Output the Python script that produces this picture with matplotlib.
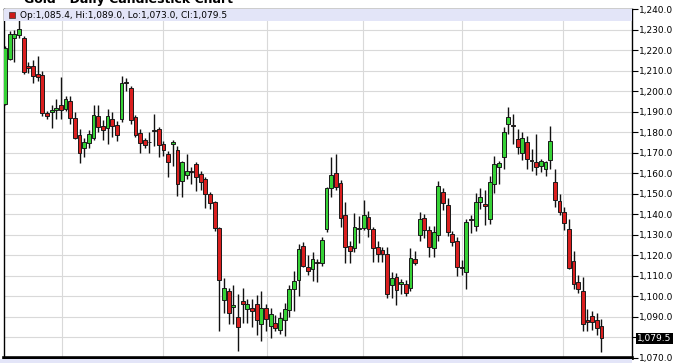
import matplotlib
matplotlib.use('Agg')
import matplotlib.pyplot as plt
from matplotlib.patches import Rectangle
import matplotlib.transforms as mtransforms
import numpy as np

# ---- data (daily OHLC) ----
opens = [1193.8, 1215.7, 1225.8, 1227.1, 1225.8, 1212.0, 1212.4, 1208.5, 1208.0, 1189.2,
         1189.6, 1191.0, 1193.0, 1191.5, 1195.4, 1186.9, 1178.8, 1172.1, 1174.7, 1177.0,
         1188.0, 1183.2, 1182.0, 1186.4, 1183.5, 1186.4, 1204.5, 1201.7, 1187.2, 1179.6,
         1176.0, 1175.4, 1180.9, 1181.6, 1174.0, 1169.4, 1174.4, 1171.3, 1156.3, 1159.1,
         1161.2, 1164.5, 1159.6, 1157.2, 1149.9, 1145.8, 1133.3, 1098.2, 1102.7, 1094.9,
         1090.0, 1097.8, 1093.8, 1094.5, 1096.2, 1086.7, 1094.5, 1085.5, 1087.2, 1083.5,
         1088.4, 1093.3, 1103.5, 1107.9, 1124.6, 1114.4, 1113.3, 1116.8, 1116.5, 1132.8,
         1152.8, 1160.1, 1155.2, 1139.8, 1124.6, 1123.8, 1132.8, 1133.3, 1138.8, 1132.8,
         1124.1, 1122.5, 1120.6, 1105.6, 1109.5, 1106.2, 1106.2, 1104.0, 1118.2, 1129.9,
         1138.1, 1132.3, 1123.5, 1129.9, 1151.1, 1144.6, 1130.6, 1127.1, 1114.5, 1111.9,
         1137.6, 1134.4, 1145.8, 1144.8, 1137.7, 1154.7, 1162.9, 1167.7, 1183.9, 1183.5,
         1176.7, 1170.1, 1175.0, 1166.6, 1165.6, 1163.5, 1162.3, 1166.6, 1155.9, 1146.6,
         1140.9, 1132.8, 1117.3, 1106.8, 1102.7, 1088.4, 1090.5, 1088.4, 1085.4]
highs = [1222.0, 1229.5, 1230.0, 1234.4, 1227.0, 1214.0, 1215.0, 1217.0, 1210.0, 1190.5,
         1193.0, 1196.0, 1206.7, 1197.8, 1197.8, 1190.0, 1181.7, 1177.0, 1181.0, 1193.4,
         1193.0, 1186.0, 1191.5, 1189.7, 1185.6, 1207.6, 1206.2, 1202.7, 1188.5, 1181.7,
         1177.0, 1180.0, 1188.9, 1182.3, 1175.5, 1171.0, 1176.0, 1173.4, 1166.0, 1169.5,
         1163.0, 1165.3, 1161.0, 1158.0, 1150.7, 1146.3, 1134.0, 1109.2, 1104.3, 1105.6,
         1101.0, 1104.3, 1098.5, 1098.5, 1100.7, 1102.7, 1096.2, 1094.5, 1091.0, 1092.5,
         1097.0, 1105.6, 1112.4, 1125.5, 1126.3, 1120.0, 1121.4, 1118.0, 1128.7, 1153.4,
         1167.7, 1169.4, 1156.5, 1145.8, 1127.0, 1140.4, 1139.0, 1146.9, 1141.5, 1134.0,
         1127.0, 1124.0, 1124.0, 1112.0, 1111.4, 1108.6, 1108.0, 1123.8, 1122.0, 1140.9,
         1140.3, 1134.4, 1134.4, 1156.3, 1152.8, 1148.0, 1131.9, 1128.7, 1117.8, 1137.7,
         1139.5, 1150.6, 1152.8, 1152.0, 1158.5, 1168.5, 1166.0, 1182.3, 1192.1, 1188.9,
         1181.7, 1180.2, 1178.3, 1172.0, 1179.1, 1167.0, 1165.8, 1183.2, 1162.0, 1150.0,
         1143.5, 1137.7, 1122.2, 1110.6, 1109.5, 1093.8, 1093.0, 1092.0, 1089.0]
lows = [1193.0, 1215.0, 1214.0, 1226.0, 1208.5, 1209.0, 1204.0, 1205.0, 1188.0, 1186.6,
        1182.0, 1186.6, 1186.6, 1190.5, 1184.2, 1176.5, 1165.0, 1168.0, 1172.5, 1176.0,
        1180.0, 1176.0, 1174.4, 1177.5, 1175.9, 1184.8, 1200.2, 1184.0, 1177.5, 1170.0,
        1172.5, 1169.9, 1173.4, 1167.7, 1168.5, 1158.0, 1163.7, 1149.0, 1148.2, 1157.3,
        1155.0, 1151.5, 1152.0, 1143.3, 1142.6, 1132.0, 1083.2, 1092.0, 1086.4, 1086.7,
        1073.4, 1087.2, 1087.0, 1085.0, 1081.2, 1078.3, 1083.0, 1079.6, 1083.0, 1081.6,
        1080.7, 1090.0, 1092.9, 1100.2, 1114.2, 1110.6, 1107.6, 1107.0, 1114.9, 1131.6,
        1148.2, 1152.0, 1133.6, 1116.5, 1116.5, 1121.4, 1126.0, 1132.3, 1129.0, 1117.0,
        1117.0, 1117.0, 1099.4, 1099.0, 1096.0, 1101.0, 1100.0, 1102.7, 1115.5, 1127.1,
        1128.6, 1119.0, 1119.0, 1127.1, 1142.0, 1129.2, 1124.5, 1110.0, 1110.3, 1103.5,
        1131.0, 1132.0, 1142.6, 1135.0, 1135.4, 1150.6, 1155.0, 1162.0, 1179.1, 1174.2,
        1169.4, 1166.6, 1162.0, 1161.2, 1159.1, 1160.4, 1158.5, 1162.0, 1143.7, 1139.5,
        1132.5, 1113.3, 1103.5, 1101.8, 1083.2, 1083.2, 1083.5, 1081.0, 1073.0]
closes = [1220.9, 1227.9, 1227.9, 1230.3, 1209.5, 1211.2, 1207.6, 1207.0, 1189.5, 1188.0,
          1191.0, 1191.8, 1191.0, 1196.3, 1186.9, 1177.0, 1169.9, 1175.0, 1179.0, 1188.4,
          1182.7, 1181.2, 1187.7, 1183.2, 1178.6, 1204.0, 1204.0, 1186.1, 1178.6, 1174.7,
          1173.8, 1175.0, 1180.5, 1173.8, 1171.5, 1165.3, 1175.3, 1154.7, 1165.3, 1161.2,
          1160.4, 1158.0, 1155.5, 1149.9, 1145.3, 1133.3, 1107.9, 1104.0, 1092.1, 1095.9,
          1085.1, 1096.2, 1096.2, 1092.9, 1088.4, 1094.5, 1088.9, 1091.5, 1084.8, 1089.4,
          1093.8, 1103.5, 1107.6, 1123.0, 1114.9, 1112.4, 1118.2, 1116.3, 1127.4, 1152.8,
          1159.1, 1153.1, 1138.1, 1124.1, 1122.2, 1133.9, 1133.0, 1139.8, 1132.8, 1123.8,
          1120.9, 1120.6, 1101.4, 1108.9, 1103.0, 1106.8, 1101.8, 1118.6, 1116.5, 1137.7,
          1132.3, 1124.3, 1131.5, 1153.9, 1145.3, 1131.5, 1126.6, 1114.5, 1113.7, 1136.3,
          1137.0, 1145.8, 1148.2, 1144.2, 1155.5, 1164.5, 1165.1, 1179.9, 1187.6, 1183.0,
          1172.6, 1177.2, 1166.9, 1166.0, 1162.8, 1165.8, 1165.6, 1175.5, 1146.9, 1141.2,
          1135.7, 1114.0, 1105.9, 1103.5, 1086.7, 1087.6, 1087.7, 1084.5, 1079.5]
price_ticks = list(range(1070, 1241, 10))
month_breaks = [12.2, 34.0, 56.2, 76.9, 98.0, 119.8]
title_text = "Gold - Daily Candlestick Chart"

# ---- figure ----
W, H = 677, 363
fig = plt.figure(figsize=(W / 100, H / 100), dpi=100)
fig.patch.set_facecolor('white')
ax = fig.add_axes([4 / W, 5 / H, 628 / W, 349 / H])
ax.set_facecolor('white')

o = np.array(opens); h = np.array(highs); l = np.array(lows); c = np.array(closes)
x = np.arange(len(o))
up = c >= o
green, red = '#36D236', '#DA1F1F'
colors = np.where(up, green, red)

# grid
for v in price_ticks:
    ax.axhline(v, color='#D9D9D9', lw=0.8, zorder=0)
for mb in month_breaks:
    ax.axvline(mb, color='#D9D9D9', lw=0.8, zorder=0)

# wicks and bodies
ax.vlines(x, l, h, color='#111111', lw=1.0, zorder=2)
body = c - o
body = np.where(np.abs(body) < 0.4, 0.4, body)
ax.bar(x, body, bottom=o, width=0.82, color=colors, edgecolor='#1a1a1a',
       linewidth=0.7, zorder=3)

ax.set_xlim(-0.215, 134.55)
ax.set_ylim(1070, 1240)

# axis styling
ax.set_xticks([])
ax.yaxis.tick_right()
ax.set_yticks(price_ticks)
last = closes[-1]
labels = ['' if abs(v - last) < 5 else f"{v:,.1f}" for v in price_ticks]
ax.set_yticklabels(labels)
ax.tick_params(axis='y', direction='out', length=4, width=0.8, pad=1.0,
               labelsize=6.5, colors='black')
for s in ['left', 'right', 'top']:
    ax.spines[s].set_color('black')
    ax.spines[s].set_linewidth(1.0)
ax.spines['bottom'].set_color('black')
ax.spines['bottom'].set_linewidth(2.6)

# header band with OHLC legend
ax.add_patch(Rectangle((0, 1 - 12 / 349), 1, 12 / 349, transform=ax.transAxes,
                       facecolor='#E3E5F8', edgecolor='none', zorder=4))
ax.add_patch(Rectangle((5 / 628, 1 - 9.5 / 349), 6 / 628, 6 / 349, transform=ax.transAxes,
                       facecolor='#CC1A1A', edgecolor='#333333', lw=0.5, zorder=5))
legend_txt = (f"Op:{opens[-1]:,.1f}, Hi:{highs[-1]:,.1f}, "
              f"Lo:{lows[-1]:,.1f}, Cl:{closes[-1]:,.1f}")
ax.text(16.5 / 628, 1 - 6.3 / 349, legend_txt, transform=ax.transAxes,
        fontsize=6.5, va='center', ha='left', color='black', zorder=6)

# last price tag
trans = mtransforms.blended_transform_factory(ax.transAxes, ax.transData)
ax.text(1 + 5 / 628, last, f"{last:,.1f}", transform=trans, fontsize=6.5,
        color='white', va='center', ha='left', zorder=6, clip_on=False,
        bbox=dict(boxstyle='square,pad=0.15', facecolor='black', edgecolor='none'))

# bottom strip
fig.patches.append(Rectangle((0, 0), 632 / W, 4 / H, transform=fig.transFigure,
                             facecolor='#E3E5F8', edgecolor='none', zorder=0))

# title, clipped at the very top as in the source image
fig.text(24 / W, (H - 2.5) / H, title_text, fontsize=9, fontweight='bold',
         va='baseline', ha='left', color='black')

fig.savefig('out.png', dpi=100)
